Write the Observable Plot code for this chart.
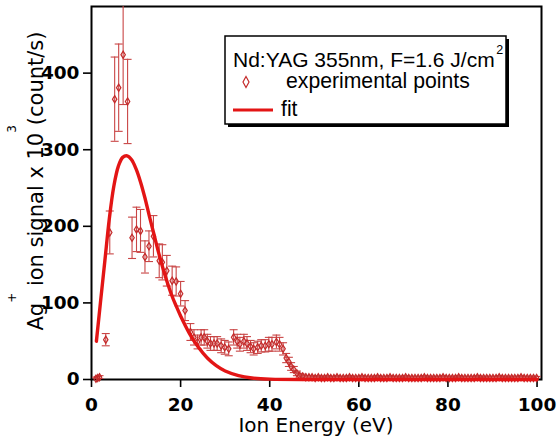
<!DOCTYPE html>
<html><head><meta charset="utf-8">
<script src="https://cdn.jsdelivr.net/npm/d3@7"></script>
<script src="https://cdn.jsdelivr.net/npm/@observablehq/plot@0.6"></script>
<style>body{margin:0;background:#fff}#chart{width:558px;height:441px}</style>
</head><body><div id="chart"></div>
<script>
// Experimental points: ion energy (eV), Ag+ signal (x10^3 count/s), error
const energy = [1.0,1.4,1.8,3.2,4.1,5.2,6.1,7.1,8.1,9.1,10.1,11.0,12.0,12.9,13.9,15.2,15.9,16.9,18.1,19.0,20.0,21.0,22.2,23.0,23.8,24.6,25.3,26.0,26.7,27.5,28.2,29.1,29.9,30.8,31.9,32.7,33.3,34.2,34.9,35.7,36.4,37.3,38.1,39.0,39.8,40.5,41.5,42.2,43.0,43.7,44.3,44.8,45.4,46.1,46.7,
47.4,48.1,48.8,49.5,50.2,50.9,51.6,52.3,53.0,53.7,54.4,55.1,55.8,56.5,57.2,57.9,58.6,59.3,60.0,60.7,61.4,62.1,62.8,63.5,64.2,64.9,65.6,66.3,67.0,67.7,68.4,69.1,69.8,70.5,71.2,71.9,72.6,73.3,74.0,74.7,75.4,76.1,76.8,77.5,78.2,78.9,79.6,80.3,81.0,81.7,82.4,83.1,83.8,84.5,85.2,85.9,86.6,87.3,88.0,88.7,89.4,90.1,90.8,91.5,92.2,92.9,93.6,94.3,95.0,95.7,96.4,97.1,97.8,98.5,99.2,99.9];
const signal = [1,2,3,52,192,366,381,424,363,185,196,194,160,174,187,155,153,142,129,128,112,90,62,55,49,55,55,50,47,47,47,44,42,40,55,50,46,50,47,43,40,42,44,44,46,46,49,46,40,28,23,17,13,8,5,
4,3,3,3,2,3,2,2,3,2,2,3,2,2,2,3,2,2,2,3,2,2,2,2,3,2,2,2,3,2,2,2,2,3,2,2,2,2,2,3,2,2,2,2,2,3,2,2,2,2,3,2,2,2,2,2,3,2,2,2,2,2,2,3,2,2,2,2,2,2,3,2,2,2,2,2,2];
const signalErr = [2,2,2,8,28,55,57,65,55,27,29,28,21,20,27,22,23,20,19,19,16,13,11,10,9,10,10,9,9,9,9,9,9,9,10,9,9,9,9,8,8,8,8,8,9,9,9,9,8,6,6,5,4,3,3,
3,2,2,2,2,2,2,2,2,2,2,2,2,2,2,2,2,2,2,2,2,2,2,2,2,2,2,2,2,2,2,2,2,2,2,2,2,2,2,2,2,2,2,2,2,2,2,2,2,2,2,2,2,2,2,2,2,2,2,2,2,2,2,2,2,2,2,2,2,2,2,2,2,2,2,2];
// Fit curve
const fitEnergy = [1.1,2,3,4,5,6,7,8,9,10,11,12,13,14,15,16,17,18,19,20,22,24,26,28,30,33,36,40,50,60,80,100];
const fitSignal = [50,100,155,210,252,278,290,292,287,275,258,237,213,190,167,146,127,110,96,83,60,42,28,18,11,5,2,0.5,0,0,0,0];
const xTicks = [0,20,40,60,80,100];
const yTicks = [0,100,200,300,400];
const legendTitle = "Nd:YAG 355nm, F=1.6 J/cm";
const legendTitleSup = "2";
const legendPoints = "experimental points";
const legendFit = "fit";
const xLabel = "Ion Energy (eV)";

const errColor = "#c94545", ptColor = "#c42a2a", fitColor = "#e31515";

const points = energy.map((x,i)=>({x, y:signal[i], lo:signal[i]-signalErr[i], hi:signal[i]+signalErr[i]}));
const fit = fitEnergy.map((x,i)=>({x, y:fitSignal[i]}));

const capSymbol = {draw(ctx){ ctx.moveTo(-4,0); ctx.lineTo(4,0); }};
const diamondSymbol = {draw(ctx){ ctx.moveTo(0,-3.6); ctx.lineTo(2.2,0); ctx.lineTo(0,3.6); ctx.lineTo(-2.2,0); ctx.closePath(); }};

const plot = Plot.plot({
  width:558, height:441,
  marginLeft:91, marginRight:17, marginTop:6, marginBottom:62,
  x:{domain:[0,101]},
  y:{domain:[0,487]},
  style:{background:"white", fontFamily:"DejaVu Sans", color:"black"},
  marks:[
    Plot.frame({stroke:"black", strokeWidth:2}),
    Plot.axisX({ticks:xTicks, tickSize:8, tickPadding:10, strokeWidth:1.6, label:null, fontSize:18.5, fontWeight:"bold", fontFamily:"DejaVu Sans"}),
    Plot.axisY({ticks:yTicks, tickSize:8, tickPadding:4, strokeWidth:1.6, label:null, fontSize:18.5, fontWeight:"bold", fontFamily:"DejaVu Sans"}),
    Plot.ruleX(points,{x:"x", y1:"lo", y2:"hi", stroke:errColor, strokeWidth:1.1, clip:true}),
    Plot.dot(points,{x:"x", y:"lo", symbol:capSymbol, stroke:errColor, strokeWidth:1.1, clip:true}),
    Plot.dot(points,{x:"x", y:"hi", symbol:capSymbol, stroke:errColor, strokeWidth:1.1, clip:true}),
    Plot.dot(points,{x:"x", y:"y", symbol:diamondSymbol, stroke:ptColor, fill:"none", strokeWidth:1.2}),
    Plot.line(fit,{x:"x", y:"y", stroke:fitColor, strokeWidth:3.4, curve:"catmull-rom"})
  ]
});
document.getElementById("chart").appendChild(plot);

const svg = d3.select(plot);
svg.append("text").attr("x",316).attr("y",432).attr("text-anchor","middle")
  .attr("font-family","DejaVu Sans").attr("font-size",20).attr("fill","black").text(xLabel);

const yl = svg.append("text").attr("transform","translate(43,181) rotate(-90)").attr("text-anchor","middle")
  .attr("font-family","DejaVu Sans").attr("font-size",21).attr("fill","black");
yl.append("tspan").text("Ag");
yl.append("tspan").attr("font-size",12).attr("dy",-27).text("+");
yl.append("tspan").attr("dy",27).text(" ion signal x 10");
yl.append("tspan").attr("font-size",12).attr("dy",-27).text("3");
yl.append("tspan").attr("dy",27).text("(count/s)");

const lg = svg.append("g").attr("text-anchor","start");
lg.append("rect").attr("x",228).attr("y",39).attr("width",281).attr("height",88).attr("fill","black");
lg.append("rect").attr("x",225).attr("y",36).attr("width",281).attr("height",88).attr("fill","white").attr("stroke","black").attr("stroke-width",1.5);
const lt = lg.append("text").attr("x",233).attr("y",67).attr("text-anchor","start").attr("font-family","Liberation Sans").attr("font-size",21).attr("fill","black").text(legendTitle);
const tw = lt.node().getComputedTextLength();
lg.append("text").attr("x",233 + tw + 1.5).attr("y",54).attr("text-anchor","start").attr("font-family","Liberation Sans").attr("font-size",12.5).attr("fill","black").text(legendTitleSup);
lg.append("path").attr("d","M246,76.5 L249,82 L246,87.5 L243,82 Z").attr("fill","none").attr("stroke",ptColor).attr("stroke-width",1.2);
lg.append("text").attr("x",286).attr("y",88).attr("text-anchor","start").attr("font-family","Liberation Sans").attr("font-size",21.2).attr("fill","black").text(legendPoints);
lg.append("line").attr("x1",233).attr("x2",273).attr("y1",110).attr("y2",110).attr("stroke",fitColor).attr("stroke-width",3);
lg.append("text").attr("x",281).attr("y",116).attr("text-anchor","start").attr("font-family","Liberation Sans").attr("font-size",21.2).attr("fill","black").text(legendFit);
</script></body></html>
